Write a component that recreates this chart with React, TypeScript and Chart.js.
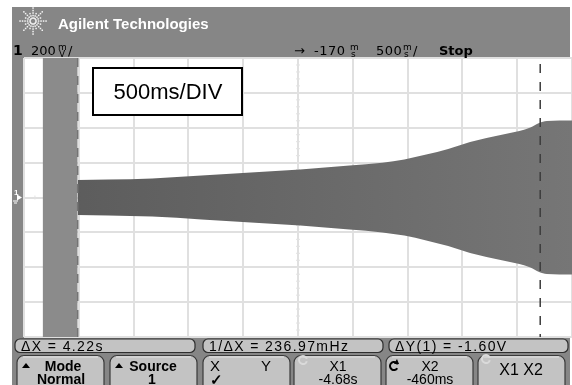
import React, { useEffect, useRef } from "react";
import { Chart, registerables } from "chart.js";

Chart.register(...registerables);

// ---- data ----
const timeS = [-4.68, -4.4, -4.0, -3.55, -3.1, -2.65, -2.2, -1.9, -1.7, -1.5, -1.3, -1.1, -0.95, -0.8, -0.65, -0.55, -0.47, -0.4, -0.17];
const envelopeV = [0.1, 0.103, 0.109, 0.126, 0.143, 0.16, 0.183, 0.2, 0.218, 0.246, 0.278, 0.318, 0.341, 0.361, 0.381, 0.401, 0.427, 0.438, 0.441];
const bandTimesS = [-5.0, -4.68];
const bandLevelV = [0.8, 0.8];
const cursorX1S = -4.68;
const cursorX2S = -0.46;
const xGridS = [-5.17, -4.67, -4.17, -3.67, -3.17, -2.67, -2.17, -1.67, -1.17, -0.67, -0.17];
const yGridV = [-0.8, -0.6, -0.4, -0.2, 0, 0.2, 0.4, 0.6, 0.8];
const statusTexts = ["ΔX = 4.22s", "1/ΔX = 236.97mHz", "ΔY(1) = -1.60V"];
const headerTitle = "Agilent Technologies";
const timebaseLabel = "500ms/DIV";

const FONT = '"Liberation Sans", Arial, sans-serif';
const SCOPE_FONT = '"DejaVu Sans", sans-serif';

function drawStackedUnit(ctx: CanvasRenderingContext2D, x: number, base: number, top: string, bottom: string) {
  ctx.save();
  ctx.font = `9px ${SCOPE_FONT}`;
  ctx.textAlign = "left";
  ctx.fillText(top, x, base - 5);
  ctx.fillText(bottom, x + 1, base + 2);
  ctx.restore();
}

function drawRing(ctx: CanvasRenderingContext2D, x: number, y: number, r: number, color: string) {
  ctx.save();
  ctx.strokeStyle = color;
  ctx.lineWidth = 2;
  ctx.beginPath();
  ctx.arc(x, y, r, 0.3, Math.PI * 2 - 0.3);
  ctx.stroke();
  ctx.restore();
}

const scopePlugin = {
  id: "scope",
  beforeDraw(chart: any) {
    const ctx: CanvasRenderingContext2D = chart.ctx;
    const a = chart.chartArea;
    ctx.save();
    ctx.fillStyle = "#ffffff";
    ctx.fillRect(0, 0, chart.width, chart.height);
    ctx.fillStyle = "#868686";
    ctx.fillRect(12, 7, 558, chart.height - 7);
    ctx.fillStyle = "#ffffff";
    ctx.fillRect(a.left, a.top, a.right - a.left, a.bottom - a.top);
    ctx.restore();
  },
  beforeDatasetsDraw(chart: any) {
    const ctx: CanvasRenderingContext2D = chart.ctx;
    const a = chart.chartArea;
    const xs = chart.scales.x;
    const ys = chart.scales.y;
    ctx.save();
    // faint minor ticks on centre axes (under the trace)
    ctx.strokeStyle = "#e2e2e2";
    ctx.lineWidth = 1;
    const cx = xs.getPixelForValue(xGridS[5]);
    const cy = ys.getPixelForValue(0);
    const divY = ys.getPixelForValue(0) - ys.getPixelForValue(0.2);
    const divX = xs.getPixelForValue(xGridS[1]) - xs.getPixelForValue(xGridS[0]);
    for (let y = a.top; y <= a.bottom; y += divY / 5) {
      ctx.beginPath();
      ctx.moveTo(cx - 2, y);
      ctx.lineTo(cx + 2, y);
      ctx.stroke();
    }
    for (let x = a.left; x <= a.right; x += divX / 5) {
      ctx.beginPath();
      ctx.moveTo(x, cy - 2);
      ctx.lineTo(x, cy + 2);
      ctx.stroke();
    }
    ctx.restore();
  },
  afterDatasetsDraw(chart: any) {
    const ctx: CanvasRenderingContext2D = chart.ctx;
    const a = chart.chartArea;
    const xs = chart.scales.x;
    ctx.save();
    // cursors
    ctx.setLineDash([9, 9]);
    ctx.lineWidth = 1.5;
    ctx.strokeStyle = "#747474";
    const x1 = xs.getPixelForValue(cursorX1S);
    ctx.beginPath();
    ctx.moveTo(x1, a.top);
    ctx.lineTo(x1, a.bottom);
    ctx.stroke();
    ctx.strokeStyle = "#3c3c3c";
    const x2 = xs.getPixelForValue(cursorX2S);
    ctx.beginPath();
    ctx.moveTo(x2, a.top + 6);
    ctx.lineTo(x2, a.bottom);
    ctx.stroke();
    ctx.setLineDash([]);
    // timebase label box
    ctx.fillStyle = "#ffffff";
    ctx.fillRect(93, 68, 149, 47);
    ctx.strokeStyle = "#000000";
    ctx.lineWidth = 2;
    ctx.strokeRect(93, 68, 149, 47);
    ctx.fillStyle = "#000000";
    ctx.font = `22px ${FONT}`;
    ctx.textAlign = "center";
    ctx.textBaseline = "alphabetic";
    ctx.fillText(timebaseLabel, 168, 99);
    ctx.restore();
  },
  afterDraw(chart: any) {
    const ctx: CanvasRenderingContext2D = chart.ctx;
    const ys = chart.scales.y;
    ctx.save();
    ctx.textBaseline = "alphabetic";
    // logo starburst
    ctx.fillStyle = "#f4f4f4";
    const lx = 33, ly = 21;
    for (let k = 0; k < 16; k++) {
      const ang = (k * Math.PI) / 8;
      const len = k % 2 === 0 ? 15 : 9;
      for (let r = 3; r <= len; r += 2.5) {
        ctx.fillRect(lx + Math.cos(ang) * r - 0.7, ly + Math.sin(ang) * r - 0.7, 1.5, 1.5);
      }
    }
    ctx.fillStyle = "#ffffff";
    ctx.font = `bold 15px ${FONT}`;
    ctx.textAlign = "left";
    ctx.fillText(headerTitle, 58, 29);
    // second header row
    ctx.fillStyle = "#000000";
    ctx.font = `bold 14px ${SCOPE_FONT}`;
    ctx.fillText("1", 13, 55);
    ctx.font = `13px ${SCOPE_FONT}`;
    ctx.fillText("200", 31, 55);
    drawStackedUnit(ctx, 58, 55, "m", "V");
    ctx.font = `13px ${SCOPE_FONT}`;
    ctx.fillText("/", 68, 55);
    ctx.fillText("→", 294, 55);
    (ctx as any).letterSpacing = "0.5px";
    ctx.fillText("-170", 314, 55);
    ctx.fillText("500", 376, 55);
    (ctx as any).letterSpacing = "0px";
    drawStackedUnit(ctx, 350, 55, "m", "s");
    drawStackedUnit(ctx, 403, 55, "m", "s");
    ctx.font = `13px ${SCOPE_FONT}`;
    ctx.fillText("/", 413, 55);
    ctx.font = `bold 13px ${SCOPE_FONT}`;
    ctx.fillText("Stop", 439, 55);
    // ground marker
    const gy = ys.getPixelForValue(0);
    ctx.fillStyle = "#ffffff";
    ctx.font = `bold 8px ${FONT}`;
    ctx.fillText("1", 14, gy - 3);
    ctx.beginPath();
    ctx.moveTo(17, gy - 3);
    ctx.lineTo(22, gy);
    ctx.lineTo(17, gy + 3);
    ctx.closePath();
    ctx.fill();
    ctx.fillRect(13, gy + 3, 5, 1);
    ctx.fillRect(14, gy + 5, 3, 1);
    // status boxes
    const boxes = [
      [15, 180],
      [203, 180],
      [389, 179],
    ];
    boxes.forEach(([bx, bw], i) => {
      ctx.fillStyle = "#c3c3c3";
      ctx.strokeStyle = "#2e2e2e";
      ctx.lineWidth = 1.2;
      ctx.beginPath();
      (ctx as any).roundRect(bx, 339, bw, 13.5, 5);
      ctx.fill();
      ctx.stroke();
      ctx.fillStyle = "#000000";
      ctx.font = `14px ${FONT}`;
      (ctx as any).letterSpacing = "1.4px";
      ctx.textAlign = "left";
      ctx.fillText(statusTexts[i], bx + 6, 351);
      (ctx as any).letterSpacing = "0px";
    });
    // buttons
    const btnX = [17, 110, 203, 294, 386, 478];
    btnX.forEach((bx) => {
      ctx.fillStyle = "#c3c3c3";
      ctx.strokeStyle = "#3a3a3a";
      ctx.lineWidth = 1.2;
      ctx.beginPath();
      (ctx as any).roundRect(bx, 355.5, 87, 40, 7);
      ctx.fill();
      ctx.stroke();
      ctx.strokeStyle = "#e2e2e2";
      ctx.lineWidth = 1;
      ctx.beginPath();
      ctx.moveTo(bx + 6, 357);
      ctx.lineTo(bx + 81, 357);
      ctx.stroke();
    });
    ctx.fillStyle = "#000000";
    const tri = (x: number, y: number) => {
      ctx.beginPath();
      ctx.moveTo(x, y + 5);
      ctx.lineTo(x + 4, y);
      ctx.lineTo(x + 8, y + 5);
      ctx.closePath();
      ctx.fill();
    };
    tri(22, 363);
    tri(115, 363);
    ctx.textAlign = "center";
    ctx.font = `bold 14px ${FONT}`;
    ctx.fillText("Mode", 63, 371);
    ctx.fillText("Normal", 61, 384);
    ctx.fillText("Source", 153, 371);
    ctx.fillText("1", 152, 384);
    ctx.font = `15px ${FONT}`;
    ctx.fillText("X", 215, 371);
    ctx.fillText("Y", 266, 371);
    ctx.font = `bold 15px ${FONT}`;
    ctx.fillText("✓", 216, 385);
    ctx.font = `14px ${FONT}`;
    ctx.fillText("X1", 338, 371);
    ctx.fillText("-4.68s", 338, 384);
    ctx.fillText("X2", 430, 371);
    ctx.fillText("-460ms", 430, 384);
    ctx.font = `16px ${FONT}`;
    ctx.fillText("X1 X2", 521, 375);
    drawRing(ctx, 303, 360, 4, "#dadada");
    drawRing(ctx, 486, 359, 4, "#dadada");
    // rotate arrow icon on X2
    ctx.strokeStyle = "#000000";
    ctx.lineWidth = 2;
    ctx.beginPath();
    ctx.arc(394, 366, 4, 0.6, Math.PI * 2 - 0.4);
    ctx.stroke();
    ctx.beginPath();
    ctx.moveTo(397, 359);
    ctx.lineTo(399, 364);
    ctx.lineTo(394, 364);
    ctx.closePath();
    ctx.fill();
    ctx.restore();
  },
};

export default function App() {
  const ref = useRef<HTMLCanvasElement | null>(null);
  useEffect(() => {
    if (!ref.current) return;
    const upper = timeS.map((t, i) => ({ x: t, y: envelopeV[i] }));
    const lower = timeS.map((t, i) => ({ x: t, y: -envelopeV[i] }));
    const band = bandTimesS.map((t, i) => ({ x: t, y: bandLevelV[i] }));
    const chart = new Chart(ref.current, {
      type: "line",
      data: {
        datasets: [
          {
            label: "band",
            data: band,
            borderColor: "rgba(0,0,0,0)",
            backgroundColor: "#8b8b8b",
            pointRadius: 0,
            fill: { value: -0.8 },
          },
          {
            label: "upper",
            data: upper,
            borderColor: "rgba(0,0,0,0)",
            pointRadius: 0,
            cubicInterpolationMode: "monotone",
            fill: false,
          },
          {
            label: "lower",
            data: lower,
            borderColor: "rgba(0,0,0,0)",
            pointRadius: 0,
            cubicInterpolationMode: "monotone",
            fill: "-1",
            backgroundColor: (c: any) => {
              const area = c.chart.chartArea;
              if (!area) return "#666666";
              const g = c.chart.ctx.createLinearGradient(area.left, 0, area.right, 0);
              g.addColorStop(0, "#5a5a5a");
              g.addColorStop(1, "#767676");
              return g;
            },
          },
        ],
      } as any,
      options: {
        responsive: false,
        animation: false,
        devicePixelRatio: 1,
        layout: { padding: { left: 24, top: 58, right: 0, bottom: 48 } },
        plugins: { legend: { display: false }, tooltip: { enabled: false } },
        scales: {
          x: {
            type: "linear",
            min: xGridS[0],
            max: xGridS[xGridS.length - 1],
            afterBuildTicks: (s: any) => {
              s.ticks = xGridS.map((v) => ({ value: v }));
            },
            ticks: { display: false },
            grid: { color: "#e0e0e0", lineWidth: 2, drawTicks: false },
            border: { display: false },
          },
          y: {
            type: "linear",
            min: yGridV[0],
            max: yGridV[yGridV.length - 1],
            afterBuildTicks: (s: any) => {
              s.ticks = yGridV.map((v) => ({ value: v }));
            },
            ticks: { display: false },
            grid: { color: "#e0e0e0", lineWidth: 2, drawTicks: false },
            border: { display: false },
          },
        },
      } as any,
      plugins: [scopePlugin],
    });
    return () => chart.destroy();
  }, []);
  return (
    <div style={{ position: "fixed", left: 0, top: 0, width: 572, height: 385 }}>
      <canvas ref={ref} width={572} height={385} style={{ display: "block" }} />
    </div>
  );
}
